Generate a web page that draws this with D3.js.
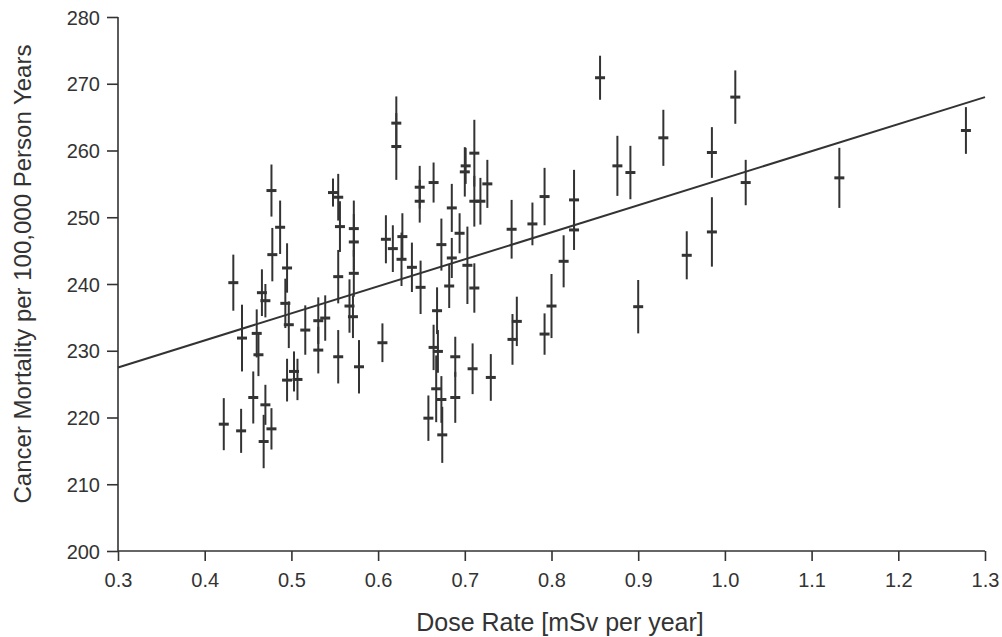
<!DOCTYPE html>
<html>
<head>
<meta charset="utf-8">
<script src="https://cdn.jsdelivr.net/npm/d3@7"></script>
<style>
  html, body { margin: 0; padding: 0; background: #fff; }
  #chart { width: 1002px; height: 637px; }
  text { font-family: "Liberation Sans", Arial, Helvetica, sans-serif; fill: #333; }
  .axis path, .axis line { stroke: #333; stroke-width: 1.6; }
  .axis text { font-size: 20px; }
  .axis-title { font-size: 25px; }
  .axis-title.y { font-size: 24px; }
</style>
</head>
<body>
<div id="chart"></div>
<script>
// dose rate per region [mSv per year]
const doseRate = [
  0.477, 0.487, 0.478, 0.495, 0.433, 0.466, 0.470, 0.493, 0.443, 0.460,
  0.462, 0.497, 0.516, 0.531, 0.539, 0.531, 0.554, 0.567, 0.571, 0.572,
  0.572, 0.572, 0.556, 0.548, 0.554, 0.554, 0.578, 0.495, 0.503, 0.507,
  0.456, 0.470, 0.422, 0.442, 0.477, 0.468,
  0.621, 0.621, 0.648, 0.648, 0.664, 0.701, 0.700, 0.711, 0.711, 0.718,
  0.726, 0.685, 0.694, 0.673, 0.685, 0.703, 0.682, 0.711, 0.754, 0.609,
  0.617, 0.628, 0.627, 0.639, 0.649, 0.605, 0.668, 0.664, 0.669, 0.689,
  0.709, 0.730, 0.667, 0.673, 0.689, 0.658, 0.674, 0.755, 0.760,
  0.778, 0.792, 0.826, 0.826, 0.814, 0.800, 0.792, 0.876, 0.891, 0.929,
  0.900, 0.856, 1.012, 0.985, 1.024, 0.985, 0.956, 1.132, 1.278
];

// cancer mortality per 100,000 person years
const mortality = [
  254.0, 248.5, 244.4, 242.4, 240.2, 238.7, 237.5, 237.1, 231.9, 232.6,
  229.4, 233.9, 233.1, 234.5, 234.9, 230.1, 241.1, 236.7, 235.1, 241.6,
  246.3, 248.3, 248.6, 253.7, 253.0, 229.1, 227.6, 225.6, 226.9, 225.7,
  223.0, 221.9, 219.0, 218.0, 218.3, 216.4,
  264.1, 260.6, 254.5, 252.4, 255.2, 257.7, 256.8, 259.6, 252.4, 252.4,
  255.0, 251.4, 247.6, 245.9, 243.9, 242.8, 239.7, 239.4, 248.2, 246.7,
  245.3, 247.1, 243.7, 242.5, 239.5, 231.2, 236.0, 230.5, 229.9, 229.1,
  227.3, 226.0, 224.3, 222.7, 223.0, 219.9, 217.4, 231.7, 234.4,
  249.0, 253.1, 252.6, 248.1, 243.4, 236.7, 232.5, 257.7, 256.7, 261.9,
  236.6, 270.9, 268.0, 259.7, 255.2, 247.8, 244.3, 255.9, 263.0
];

// half length of the error bars
const errorHalf = [
  3.9, 4.0, 4.0, 3.7, 4.2, 3.5, 2.5, 3.7, 5.0, 3.6,
  3.2, 3.5, 3.7, 3.5, 3.4, 3.5, 4.0, 4.0, 3.2, 3.5,
  4.2, 4.2, 3.8, 2.1, 3.5, 4.0, 4.0, 3.2, 3.0, 3.1,
  3.9, 3.0, 3.9, 3.3, 3.1, 4.0,
  4.0, 5.0, 3.2, 3.2, 3.0, 2.7, 3.7, 5.0, 3.8, 3.5,
  3.6, 3.6, 3.0, 3.9, 3.0, 5.8, 3.3, 3.7, 4.4, 3.6,
  3.5, 3.5, 4.0, 3.7, 4.0, 2.9, 3.5, 3.4, 3.2, 3.0,
  3.8, 3.5, 5.0, 3.5, 3.8, 3.4, 4.2, 3.8, 3.7,
  3.2, 4.3, 4.5, 3.0, 3.9, 4.8, 3.1, 4.5, 4.0, 4.2,
  4.0, 3.3, 4.0, 3.8, 3.4, 5.2, 3.6, 4.5, 3.5
];

// regression line end points
const fitDose = [0.3, 1.3];
const fitMortality = [227.5, 268.0];

const xTicks = [0.3, 0.4, 0.5, 0.6, 0.7, 0.8, 0.9, 1.0, 1.1, 1.2, 1.3];
const yTicks = [200, 210, 220, 230, 240, 250, 260, 270, 280];


class ErrorBarChart {

  constructor() {
    this._margin = { left: 118, top: 17, right: 17, bottom: 86 };
    this._color = '#333';
    this._capWidth = 10;
  }

  renderTo(selector) {

    const container = d3.select(selector);
    const width = 1002;
    const height = 637;
    const m = this._margin;
    const innerW = width - m.left - m.right;
    const innerH = height - m.top - m.bottom;

    const svg = container.append('svg')
      .attr('width', width)
      .attr('height', height);

    const canvas = svg.append('g')
      .attr('transform', 'translate(' + [m.left, m.top] + ')');

    const x = d3.scaleLinear().domain([0.3, 1.3]).range([0, innerW]);
    const y = d3.scaleLinear().domain([200, 280]).range([innerH, 0]);

    const xAxis = canvas.append('g')
      .attr('class', 'axis')
      .attr('transform', 'translate(0,' + innerH + ')')
      .call(d3.axisBottom(x).tickValues(xTicks).tickFormat(d3.format('.1f')).tickSize(10).tickPadding(12));

    const yAxis = canvas.append('g')
      .attr('class', 'axis')
      .call(d3.axisLeft(y).tickValues(yTicks).tickSize(11).tickPadding(7));

    // plain domain lines, no end ticks
    xAxis.select('.domain').attr('d', 'M0,0H' + innerW);
    yAxis.select('.domain').attr('d', 'M0,0V' + innerH);
    yAxis.selectAll('.tick text').attr('dy', '0.36em');

    const points = doseRate.map(function(d, i) {
      return { x: d, y: mortality[i], e: errorHalf[i] };
    });

    const bars = canvas.append('g').attr('class', 'bars');

    bars.selectAll('line.err')
      .data(points)
      .enter()
      .append('line')
      .attr('class', 'err')
      .attr('x1', d => x(d.x))
      .attr('x2', d => x(d.x))
      .attr('y1', d => y(d.y + d.e))
      .attr('y2', d => y(d.y - d.e))
      .style('stroke', this._color)
      .style('stroke-width', 2);

    bars.selectAll('line.mark')
      .data(points)
      .enter()
      .append('line')
      .attr('class', 'mark')
      .attr('x1', d => x(d.x) - this._capWidth / 2)
      .attr('x2', d => x(d.x) + this._capWidth / 2)
      .attr('y1', d => y(d.y))
      .attr('y2', d => y(d.y))
      .style('stroke', this._color)
      .style('stroke-width', 3);

    const line = d3.line()
      .x(d => x(d[0]))
      .y(d => y(d[1]));

    canvas.append('path')
      .datum(fitDose.map((d, i) => [d, fitMortality[i]]))
      .attr('d', line)
      .style('fill', 'none')
      .style('stroke', this._color)
      .style('stroke-width', 2);

    svg.append('text')
      .attr('class', 'axis-title')
      .attr('x', 560)
      .attr('y', 631)
      .attr('text-anchor', 'middle')
      .text('Dose Rate [mSv per year]');

    svg.append('text')
      .attr('class', 'axis-title y')
      .attr('transform', 'translate(31,274) rotate(-90)')
      .attr('text-anchor', 'middle')
      .text('Cancer Mortality per 100,000 Person Years');

    return this;
  }
}

new ErrorBarChart().renderTo('#chart');
</script>
</body>
</html>
